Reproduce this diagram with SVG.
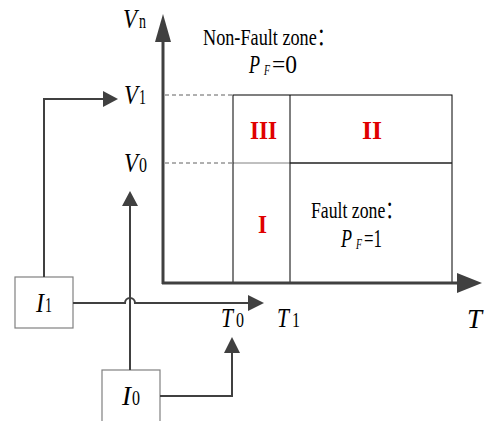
<svg xmlns="http://www.w3.org/2000/svg" width="485" height="421" viewBox="0 0 485 421" font-family="'Liberation Serif', 'DejaVu Serif', 'Noto Sans CJK SC', serif">
<style>
.ax{stroke:#404040;stroke-width:3;fill:none}
.cn{stroke:#404040;stroke-width:2;fill:none}
.dash{stroke:#606060;stroke-width:1;stroke-dasharray:4,3;fill:none}
.rl{stroke:#000;stroke-width:1;fill:none}
.box{stroke:#808080;stroke-width:1.2;fill:#fff}
.ah{fill:#404040;stroke:none}
text{font-family:'Liberation Serif','DejaVu Serif','Noto Sans CJK SC',serif;fill:#000}
.it{font-style:italic}
.rn{font-weight:bold;fill:#e00000;font-size:26px}
.lab{font-size:27px;font-style:italic}
.sub{font-size:21px}
.zt{font-size:24px}
.pf{font-size:25px}
.pfs{font-size:15px;font-style:italic}
</style>
<rect width="485" height="421" fill="#fff"/>
<g id="zones">
<line class="dash" x1="165" y1="95" x2="233" y2="95"/>
<line class="dash" x1="165" y1="163" x2="233" y2="163"/>
<line x1="233" y1="163" x2="290" y2="163" stroke="#808080" stroke-width="1"/>
<rect class="rl" x="233" y="95" width="219" height="188"/>
<line class="rl" x1="290" y1="95" x2="290" y2="283"/>
<line x1="290" y1="163" x2="452" y2="163" stroke="#202020" stroke-width="1.6"/>
<text class="rn" x="250" y="139" textLength="27" lengthAdjust="spacingAndGlyphs">III</text>
<text class="rn" x="362" y="139" textLength="20" lengthAdjust="spacingAndGlyphs">II</text>
<text class="rn" x="258" y="233" textLength="9" lengthAdjust="spacingAndGlyphs">I</text>
<text class="zt" x="311" y="218" textLength="92" lengthAdjust="spacingAndGlyphs">Fault zone：</text>
<text class="pf it" x="341" y="247" textLength="11" lengthAdjust="spacingAndGlyphs">P</text>
<text class="pfs" x="356" y="249" textLength="6" lengthAdjust="spacingAndGlyphs">F</text>
<text class="pf" x="364" y="247" textLength="18" lengthAdjust="spacingAndGlyphs">=1</text>
<text class="zt" x="203" y="45" textLength="132" lengthAdjust="spacingAndGlyphs">Non-Fault zone：</text>
<text class="pf it" x="249" y="73" textLength="11" lengthAdjust="spacingAndGlyphs">P</text>
<text class="pfs" x="264" y="75" textLength="6" lengthAdjust="spacingAndGlyphs">F</text>
<text class="pf" x="272" y="73" textLength="25" lengthAdjust="spacingAndGlyphs">=0</text>
</g>
<g id="axes">
<line class="ax" x1="163" y1="284" x2="163" y2="40"/>
<polygon class="ah" points="163,14 155,42 171,42"/>
<line class="ax" x1="162" y1="283" x2="459" y2="283"/>
<polygon class="ah" points="482,283 457,273 457,293"/>
<text class="lab" x="123" y="28" textLength="14" lengthAdjust="spacingAndGlyphs">V</text>
<text class="sub" x="139" y="28" textLength="7" lengthAdjust="spacingAndGlyphs">n</text>
<text class="lab" x="124" y="104" textLength="14" lengthAdjust="spacingAndGlyphs">V</text>
<text class="sub" x="139" y="104" textLength="7" lengthAdjust="spacingAndGlyphs">1</text>
<text class="lab" x="124" y="172" textLength="14" lengthAdjust="spacingAndGlyphs">V</text>
<text class="sub" x="139" y="172" textLength="8" lengthAdjust="spacingAndGlyphs">0</text>
<text class="lab" x="221" y="327" textLength="12" lengthAdjust="spacingAndGlyphs">T</text>
<text class="sub" x="236" y="327" textLength="8" lengthAdjust="spacingAndGlyphs">0</text>
<text class="lab" x="277" y="327" textLength="12" lengthAdjust="spacingAndGlyphs">T</text>
<text class="sub" x="292" y="327" textLength="8" lengthAdjust="spacingAndGlyphs">1</text>
<text class="lab" x="467" y="328" textLength="15" lengthAdjust="spacingAndGlyphs">T</text>
</g>
<g id="I1">
<rect class="box" x="15" y="277" width="58" height="51"/>
<text class="lab" x="36" y="312" textLength="8" lengthAdjust="spacingAndGlyphs">I</text>
<text class="sub" x="45" y="312" textLength="7" lengthAdjust="spacingAndGlyphs">1</text>
</g>
<g id="I0">
<rect class="box" x="102" y="370" width="58" height="55"/>
<text class="lab" x="122" y="405" textLength="9" lengthAdjust="spacingAndGlyphs">I</text>
<text class="sub" x="132" y="405" textLength="8" lengthAdjust="spacingAndGlyphs">0</text>
</g>
<g id="connectors">
<path class="cn" d="M44,277 V99 H105"/>
<polygon class="ah" points="118,99 103,91 103,107"/>
<path class="cn" d="M73,303 H125 A5,5 0 0 1 135,303 H250"/>
<polygon class="ah" points="264,303 248,295 248,311"/>
<path class="cn" d="M130,370 V205"/>
<polygon class="ah" points="130,191 122,206 138,206"/>
<path class="cn" d="M160,396 H232 V352"/>
<polygon class="ah" points="232,337 224,353 240,353"/>
</g>
</svg>
